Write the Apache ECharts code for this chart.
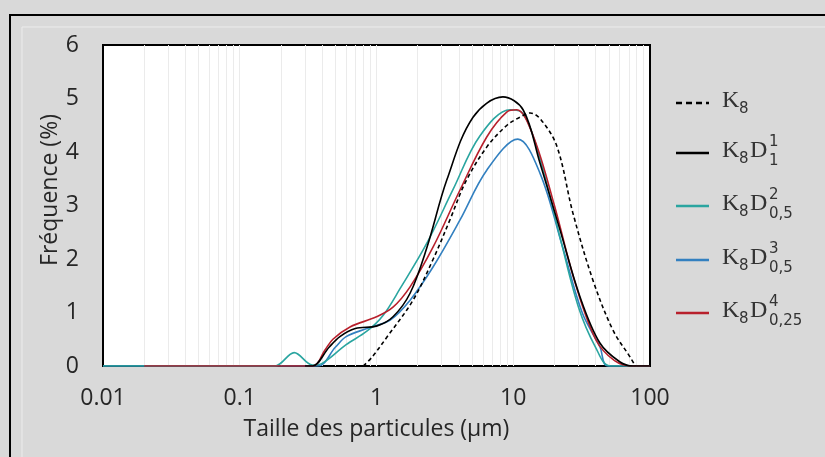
<!DOCTYPE html>
<html>
<head>
<meta charset="utf-8">
<script src="https://cdn.jsdelivr.net/npm/echarts@6/dist/echarts.min.js"></script>
<style>
  html, body { margin: 0; padding: 0; background: #d9d9d9; }
  #chart { width: 825px; height: 457px; }
</style>
</head>
<body>
<div id="chart"></div>
<script>
// =====================
// 数据
// =====================

const xTickLabels = ["0.01", "0.1", "1", "10", "100"];
const yTickLabels = ["0", "1", "2", "3", "4", "5", "6"];

// faint vertical grid lines (log minor positions)
const gridValues = [
  0.02, 0.03, 0.04, 0.05, 0.06, 0.07, 0.08, 0.09, 0.1,
  0.2, 0.3, 0.4, 0.5, 0.6, 0.7, 0.8, 0.9, 1,
  2, 3, 4, 5, 6, 7, 8, 9, 10,
  20, 30, 40, 50, 60, 70, 80, 90,
];

// K8 (dashed)
const xK8 = [0.8, 0.93, 1.2, 1.85, 2.6, 3.44, 4.5, 6.43, 9, 11.2, 13.3, 16, 20.9, 27.3, 38.3, 53.6, 71.4, 78];
const yK8 = [0, 0.17, 0.55, 1.23, 2.0, 2.73, 3.45, 4.1, 4.5, 4.65, 4.73, 4.6, 4.1, 2.86, 1.6, 0.67, 0.17, 0];

// K8D1
const xD1 = [0.3, 0.34, 0.45, 0.54, 0.7, 1.01, 1.32, 1.76, 2.34, 3.27, 5.08, 8.4, 11.8, 15.7, 22, 30.8, 43, 60, 75, 100];
const yD1 = [0, 0, 0.35, 0.55, 0.7, 0.75, 0.92, 1.36, 2.22, 3.48, 4.65, 5.03, 4.79, 3.79, 2.54, 1.29, 0.43, 0.08, 0, 0];

// K8D2 0,5
const xD2 = [0.01, 0.18, 0.25, 0.34, 0.4, 0.6, 0.85, 1.12, 1.49, 2.34, 3.63, 5.7, 9.5, 12, 16, 22, 30, 40, 51, 100];
const yD2 = [0, 0, 0.25, 0.02, 0.05, 0.4, 0.65, 0.95, 1.45, 2.3, 3.3, 4.3, 4.79, 4.7, 3.8, 2.4, 1.1, 0.35, 0, 0];

// K8D3 0,5
const xD3 = [0.01, 0.37, 0.5, 0.6, 0.85, 1.26, 1.76, 2.59, 4.08, 6.4, 10.8, 15.7, 23, 32, 43, 49, 100];
const yD3 = [0, 0, 0.35, 0.55, 0.7, 0.86, 1.23, 1.85, 2.73, 3.66, 4.24, 3.6, 2.22, 0.99, 0.36, 0, 0];

// K8D4 0,25
const xD4 = [0.02, 0.34, 0.42, 0.48, 0.64, 1.0, 1.32, 1.76, 2.59, 4.08, 6.4, 9, 10.6, 14, 20, 28, 40, 55, 75, 100];
const yD4 = [0, 0, 0.3, 0.5, 0.73, 0.92, 1.1, 1.48, 2.22, 3.29, 4.28, 4.75, 4.79, 4.3, 3.0, 1.6, 0.5, 0.1, 0, 0];

// 图例: 下标, 上标, 颜色, 虚线
const legendRows = [
  { sub: "", sup: "", color: "#000000", dashed: true },
  { sub: "1", sup: "1", color: "#000000", dashed: false },
  { sub: "0,5", sup: "2", color: "#2aa5a0", dashed: false },
  { sub: "0,5", sup: "3", color: "#3380c0", dashed: false },
  { sub: "0,25", sup: "4", color: "#b8202c", dashed: false },
];

// =====================
// 工具
// =====================

function pairs(xs, ys) {
  return xs.map((x, i) => [x, ys[i]]);
}

function lineSeries(name, xs, ys, color, dashed, z) {
  return {
    name: name,
    type: "line",
    smooth: 0.35,
    showSymbol: false,
    z: z,
    lineStyle: {
      color: color,
      width: 1.6,
      type: dashed ? [4, 3] : "solid",
    },
    data: pairs(xs, ys),
  };
}

function buildLegend() {
  const items = [];
  const rowY = [101, 151, 204, 258, 311];
  const x0 = 722;
  const serif = "24px Liberation Serif";
  const small = "15px DejaVu Sans";
  const fill = "#333";

  legendRows.forEach((row, i) => {
    const y = rowY[i];
    items.push({
      type: "line",
      shape: { x1: 676, y1: y + 2, x2: 709, y2: y + 2 },
      style: {
        stroke: row.color,
        lineWidth: 2.5,
        lineDash: row.dashed ? [6, 4] : null,
      },
    });
    items.push({
      type: "text",
      x: x0, y: y,
      style: { text: "K", font: serif, fill: fill, verticalAlign: "middle" },
    });
    items.push({
      type: "text",
      x: x0 + 17, y: y + 8,
      style: { text: "8", font: small, fill: fill, verticalAlign: "middle" },
    });
    if (i > 0) {
      items.push({
        type: "text",
        x: x0 + 28, y: y,
        style: { text: "D", font: serif, fill: fill, verticalAlign: "middle" },
      });
      items.push({
        type: "text",
        x: x0 + 47, y: y - 9,
        style: { text: row.sup, font: small, fill: fill, verticalAlign: "middle" },
      });
      items.push({
        type: "text",
        x: x0 + 47, y: y + 10,
        style: { text: row.sub, font: small, fill: fill, verticalAlign: "middle" },
      });
    }
  });
  return items;
}

// =====================
// 图表
// =====================

const chart = echarts.init(document.getElementById("chart"));

chart.setOption({
  animation: false,
  backgroundColor: "#d9d9d9",
  textStyle: { fontFamily: "Open Sans" },

  grid: {
    left: 103,
    right: 175,
    top: 45,
    bottom: 91,
    show: true,
    backgroundColor: "#ffffff",
    borderColor: "#000000",
    borderWidth: 2,
  },

  xAxis: {
    type: "log",
    logBase: 10,
    min: 0.01,
    max: 100,
    name: "Taille des particules (µm)",
    nameLocation: "middle",
    nameGap: 52,
    nameTextStyle: { fontSize: 23, color: "#262626", fontFamily: "Open Sans" },
    axisLine: { lineStyle: { color: "#000", width: 2 } },
    axisTick: { show: false },
    splitLine: { show: false },
    axisLabel: {
      fontSize: 23,
      color: "#262626",
      margin: 21,
      formatter: (v, i) => xTickLabels[i],
    },
  },

  yAxis: {
    type: "value",
    min: 0,
    max: 6,
    interval: 1,
    axisLine: { show: false },
    axisTick: { show: false },
    splitLine: { show: false },
    axisLabel: {
      fontSize: 23,
      color: "#262626",
      margin: 24,
      formatter: (v) => yTickLabels[v],
    },
  },

  graphic: [
    {
      type: "rect",
      shape: { x: 10, y: 15, width: 900, height: 600 },
      style: { fill: "none", stroke: "#000", lineWidth: 2 },
      silent: true,
    },
    {
      type: "rect",
      shape: { x: 22, y: 27, width: 900, height: 600 },
      style: { fill: "none", stroke: "#ececec", lineWidth: 1 },
      silent: true,
    },
    {
      type: "text",
      x: 50,
      y: 190,
      rotation: Math.PI / 2,
      style: {
        text: "Fréquence (%)",
        font: "23px Open Sans",
        fill: "#262626",
        align: "center",
        verticalAlign: "middle",
      },
    },
  ].concat(buildLegend()),

  series: [
    {
      type: "line",
      data: [],
      z: 1,
      markLine: {
        silent: true,
        symbol: "none",
        z: 1,
        label: { show: false },
        lineStyle: { color: "#ebebeb", type: "solid", width: 1 },
        data: gridValues.map((v) => ({ xAxis: v })),
      },
    },
    lineSeries("K8D3", xD3, yD3, "#3380c0", false, 2),
    lineSeries("K8D2", xD2, yD2, "#2aa5a0", false, 3),
    lineSeries("K8D4", xD4, yD4, "#b8202c", false, 4),
    lineSeries("K8D1", xD1, yD1, "#000000", false, 5),
    lineSeries("K8", xK8, yK8, "#000000", true, 6),
  ],
});
</script>
</body>
</html>
